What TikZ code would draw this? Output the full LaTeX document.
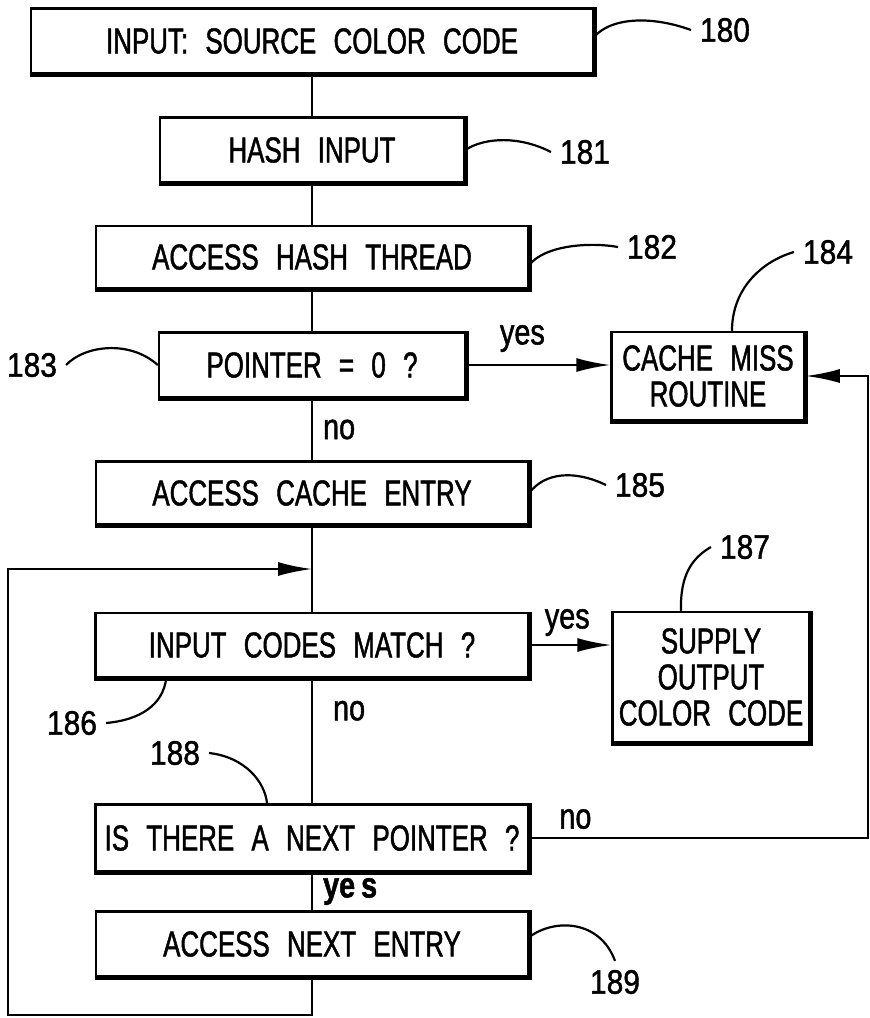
\documentclass[tikz,border=0pt]{standalone}
\usepackage{fontspec}
\setmainfont{Liberation Sans}[FakeStretch=0.72,WordSpace=2.4,FakeBold=1.3]
\newfontfamily\tagfont{Liberation Sans}[FakeStretch=0.88,FakeBold=1.3]
\newfontfamily\lblfont{Liberation Sans}[FakeStretch=0.8,FakeBold=1.3]
\usetikzlibrary{arrows.meta}
\frenchspacing

\begin{document}
\begin{tikzpicture}[x=0.5pt,y=-0.5pt,line width=1.1pt,
  blk/.style={draw,line width=1.25pt,inner sep=0pt,align=center,font=\fontsize{18}{18}\selectfont},
  num/.style={font=\tagfont\fontsize{17}{17}\selectfont,inner sep=4pt},
  lbl/.style={font=\lblfont\fontsize{18}{18}\selectfont,inner sep=0pt},
  arr/.style={-{Latex[length=17pt,width=7pt]}}]
\useasboundingbox (0,0) rectangle (870,1018);

\node[blk,minimum width=281pt,minimum height=32.5pt] (src) at (312,41) {INPUT: SOURCE COLOR CODE};
\node[blk,minimum width=152pt,minimum height=32.5pt] (hash) at (312,150) {HASH INPUT};
\node[blk,minimum width=216pt,minimum height=31pt] (thread) at (312,257) {ACCESS HASH THREAD};
\node[blk,minimum width=153pt,minimum height=32.5pt] (ptr) at (312,365) {POINTER = 0 ?};
\node[blk,minimum width=96.5pt,minimum height=44pt] (miss) at (708,376) {CACHE MISS\\ROUTINE};
\node[blk,minimum width=216pt,minimum height=31.5pt] (entry) at (312,493) {ACCESS CACHE ENTRY};
\node[blk,minimum width=216.5pt,minimum height=32pt] (match) at (312,645) {INPUT CODES MATCH ?};
\node[blk,minimum width=98.5pt,minimum height=65pt] (supply) at (711,677) {SUPPLY\\OUTPUT\\COLOR CODE};
\node[blk,minimum width=216.5pt,minimum height=33.5pt] (next) at (312,838) {IS THERE A NEXT POINTER ?};
\node[blk,minimum width=216pt,minimum height=32.5pt] (nxtentry) at (312,944) {ACCESS NEXT ENTRY};

\foreach \n in {src,hash,thread,ptr,miss,entry,match,supply,next,nxtentry}
\draw [line width=2.5pt] (\n.north east) -- (\n.south east) -- (\n.south west);

\node[num] (n180) at (725,30) {180};
\node[num] (n181) at (585,152) {181};
\node[num] (n182) at (652,247) {182};
\node[num] (n183) at (32,365) {183};
\node[num] (n184) at (828,252) {184};
\node[num] (n185) at (640,485) {185};
\node[num] (n186) at (72,723) {186};
\node[num] (n187) at (745,547) {187};
\node[num] (n188) at (175,753) {188};
\node[num] (n189) at (615,982) {189};

\coordinate (rgt) at (868,600);
\coordinate (low) at (8,1015);
\coordinate (join) at (312,569);

\draw [-] (src) -- (hash);
\draw [-] (hash) -- (thread);
\draw [-] (thread) -- (ptr);
\draw [-] (ptr) -- node[lbl,right=5pt] {no} (entry);
\draw [-] (entry) -- (match);
\draw [-] (match) -- node[lbl,right=10pt,pos=0.26] {no} (next);
\draw [-] (next) -- node[lbl,right=5pt,font=\lblfont\bfseries\fontsize{18}{18}\selectfont] {ye\,s} (nxtentry);
\draw [arr] (ptr.east) -- node[lbl,above=6pt,pos=0.39] {yes} (ptr.east -| miss.west);
\draw [arr] (match.east) -- node[lbl,above=4pt,pos=0.46] {yes} (match.east -| supply.west);
\draw [arr] (next.east) -- node[lbl,above=4pt,pos=0.135] {no} (next.east -| rgt) |- (miss.east);
\draw [arr] (nxtentry.south) |- (low) |- (join);

\draw ([yshift=2pt]src.east) .. controls (610,18) and (650,15) .. (n180.west);
\draw (hash.east) .. controls (485,137) and (520,136) .. (n181.west);
\draw ([yshift=-4pt]thread.east) .. controls (545,245) and (590,242) .. (n182.west);
\draw (n183.east) .. controls (85,345) and (130,340) .. (ptr.west);
\draw ([xshift=12pt]miss.north) .. controls (732,290) and (760,262) .. (n184.west);
\draw (entry.east) .. controls (545,472) and (575,470) .. (n185.west);
\draw ([xshift=36pt]match.south west) .. controls (163,705) and (140,720) .. (n186.east);
\draw ([xshift=-15pt]supply.north) .. controls (680,575) and (692,558) .. (n187.west);
\draw (n188.east) .. controls (245,757) and (265,782) .. ([xshift=-22.5pt]next.north);
\draw ([yshift=3.5pt]nxtentry.east) .. controls (555,918) and (600,920) .. (n189.north);

\end{tikzpicture}
\end{document}
